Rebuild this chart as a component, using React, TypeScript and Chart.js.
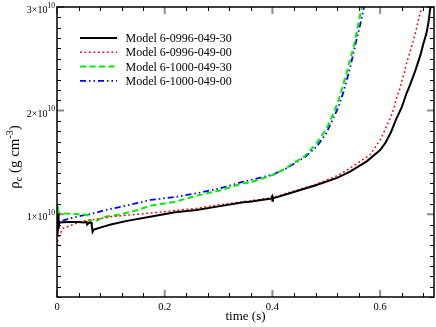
import { useEffect, useRef } from 'react';
import { Chart, registerables } from 'chart.js';

Chart.register(...registerables);

const FONT = '"Liberation Serif", "Times New Roman", serif';

// density in units of 10^10 g cm^-3, time in s
const seriesLabels = [
  'Model 6-0996-049-30',
  'Model 6-0996-049-00',
  'Model 6-1000-049-30',
  'Model 6-1000-049-00',
];

const tBlack = [0, 0.001, 0.002, 0.003, 0.004, 0.006, 0.02, 0.04, 0.05, 0.055, 0.056, 0.06, 0.064, 0.066, 0.068, 0.08, 0.1, 0.13, 0.173, 0.219, 0.259, 0.3, 0.346, 0.358, 0.398, 0.399, 0.4, 0.401, 0.402, 0.426, 0.482, 0.52, 0.544, 0.575, 0.6, 0.61, 0.62, 0.63, 0.64, 0.649, 0.655, 0.66, 0.665, 0.67, 0.675, 0.68, 0.686, 0.69, 0.6925, 0.695];
const rhoBlack = [0.92, 0.8, 1.0, 0.86, 0.93, 0.92, 0.925, 0.925, 0.92, 0.925, 0.9, 0.92, 0.915, 0.83, 0.85, 0.87, 0.9, 0.935, 0.975, 1.018, 1.04, 1.075, 1.114, 1.12, 1.15, 1.18, 1.13, 1.165, 1.155, 1.192, 1.281, 1.35, 1.41, 1.51, 1.619, 1.69, 1.79, 1.92, 2.03, 2.167, 2.24, 2.31, 2.38, 2.46, 2.54, 2.64, 2.746, 2.86, 2.97, 3.05];

const tRed = [0, 0.001, 0.002, 0.004, 0.01, 0.02, 0.035, 0.05, 0.065, 0.07, 0.1, 0.173, 0.219, 0.259, 0.3, 0.346, 0.4, 0.426, 0.482, 0.52, 0.544, 0.581, 0.6, 0.606, 0.613, 0.62, 0.626, 0.631, 0.636, 0.64, 0.645, 0.649, 0.655, 0.662, 0.667, 0.671, 0.677, 0.68];
const rhoRed = [0.75, 0.7, 0.8, 0.78, 0.86, 0.88, 0.91, 0.935, 0.945, 0.95, 0.975, 1.01, 1.035, 1.056, 1.09, 1.12, 1.16, 1.2, 1.29, 1.37, 1.443, 1.571, 1.716, 1.78, 1.86, 1.94, 2.03, 2.134, 2.2, 2.28, 2.37, 2.456, 2.56, 2.68, 2.78, 2.875, 2.99, 3.05];

const tGreen = [0, 0.001, 0.002, 0.003, 0.005, 0.02, 0.04, 0.055, 0.06, 0.0645, 0.07, 0.089, 0.12, 0.15, 0.173, 0.219, 0.259, 0.3, 0.346, 0.358, 0.4, 0.426, 0.433, 0.46, 0.482, 0.5, 0.513, 0.523, 0.532, 0.538, 0.544, 0.551, 0.556, 0.562, 0.566, 0.568];
const rhoGreen = [1.05, 0.95, 1.08, 1.0, 1.01, 1.005, 1.0, 0.995, 0.98, 0.911, 0.93, 0.975, 1.0, 1.04, 1.081, 1.12, 1.178, 1.225, 1.298, 1.303, 1.378, 1.443, 1.474, 1.56, 1.684, 1.82, 1.97, 2.1, 2.263, 2.37, 2.488, 2.62, 2.746, 2.9, 3.0, 3.05];

const tBlue = [0, 0.001, 0.002, 0.003, 0.005, 0.01, 0.024, 0.05, 0.07, 0.09, 0.12, 0.173, 0.219, 0.259, 0.3, 0.346, 0.4, 0.426, 0.46, 0.482, 0.5, 0.513, 0.523, 0.532, 0.544, 0.556, 0.563, 0.569, 0.571];
const rhoBlue = [0.93, 0.85, 0.96, 0.88, 0.93, 0.935, 0.96, 0.99, 1.01, 1.04, 1.072, 1.137, 1.165, 1.201, 1.245, 1.313, 1.38, 1.443, 1.55, 1.651, 1.78, 1.925, 2.04, 2.182, 2.408, 2.68, 2.83, 2.97, 3.05];

const xMajorTicks = [0, 0.2, 0.4, 0.6];
const xTickLabels = ['0', '0.2', '0.4', '0.6'];
const yMajorTicks = [1, 2, 3];
const yTickLabels = ['1×10', '2×10', '3×10'];
const yTickExponent = '10';
const xTitle = 'time (s)';

const toXY = (t: number[], r: number[]) => t.map((x, i) => ({ x, y: r[i] }));

const framePlugin = {
  id: 'frameAndText',
  afterDraw(chart: any) {
    const { ctx, chartArea: a, scales } = chart;
    const xs = scales.x;
    const ys = scales.y;
    ctx.save();

    // minor ticks
    ctx.strokeStyle = '#000';
    ctx.lineWidth = 1;
    ctx.beginPath();
    for (let i = 2; i <= 30; i++) {
      if (i % 10 === 0) continue;
      const y = Math.round(ys.getPixelForValue(i / 10)) + 0.5;
      ctx.moveTo(a.left, y); ctx.lineTo(a.left + 4, y);
      ctx.moveTo(a.right, y); ctx.lineTo(a.right - 4, y);
    }
    for (let i = 1; i <= 17; i++) {
      if (i % 5 === 0) continue;
      const x = Math.round(xs.getPixelForValue(i * 0.04)) + 0.5;
      ctx.moveTo(x, a.bottom); ctx.lineTo(x, a.bottom - 4);
      ctx.moveTo(x, a.top); ctx.lineTo(x, a.top + 4);
    }
    ctx.stroke();

    // major ticks
    ctx.strokeStyle = 'rgba(0,0,0,0.45)';
    ctx.lineWidth = 2;
    ctx.beginPath();
    yMajorTicks.forEach((v) => {
      const y = ys.getPixelForValue(v);
      ctx.moveTo(a.left, y); ctx.lineTo(a.left + 7, y);
      ctx.moveTo(a.right, y); ctx.lineTo(a.right - 7, y);
    });
    xMajorTicks.forEach((v) => {
      const x = xs.getPixelForValue(v);
      ctx.moveTo(x, a.bottom); ctx.lineTo(x, a.bottom - 7);
      ctx.moveTo(x, a.top); ctx.lineTo(x, a.top + 7);
    });
    ctx.stroke();

    // frame
    ctx.strokeStyle = '#000';
    ctx.lineWidth = 1.5;
    ctx.strokeRect(a.left, a.top, a.right - a.left, a.bottom - a.top);

    ctx.fillStyle = '#000';
    // y tick labels
    yMajorTicks.forEach((v, i) => {
      const y = ys.getPixelForValue(v);
      ctx.font = `7.5px ${FONT}`;
      ctx.textAlign = 'right';
      ctx.textBaseline = 'alphabetic';
      const sw = ctx.measureText(yTickExponent).width;
      ctx.fillText(yTickExponent, 55, y + 0.7);
      ctx.font = `10px ${FONT}`;
      ctx.fillText(yTickLabels[i], 55 - sw, y + 6);
    });
    // x tick labels
    ctx.font = `10.5px ${FONT}`;
    ctx.textAlign = 'center';
    xMajorTicks.forEach((v, i) => {
      ctx.fillText(xTickLabels[i], xs.getPixelForValue(v), 310);
    });
    // x title
    ctx.font = `13px ${FONT}`;
    ctx.fillText(xTitle, (a.left + a.right) / 2, 320);

    // y title with sub/superscripts
    const parts = [
      { s: 'ρ', size: 15, dy: 0 },
      { s: 'c', size: 10, dy: 3 },
      { s: ' (g cm', size: 15, dy: 0 },
      { s: '-3', size: 10, dy: -6 },
      { s: ')', size: 15, dy: 0 },
    ];
    let total = 0;
    parts.forEach((p) => { ctx.font = `${p.size}px ${FONT}`; total += ctx.measureText(p.s).width; });
    ctx.translate(18.5, 157);
    ctx.rotate(-Math.PI / 2);
    ctx.textAlign = 'left';
    let cx = -total / 2;
    parts.forEach((p) => {
      ctx.font = `${p.size}px ${FONT}`;
      ctx.fillText(p.s, cx, p.dy);
      cx += ctx.measureText(p.s).width;
    });
    ctx.setTransform(1, 0, 0, 1, 0, 0);

    // legend
    ctx.font = `12px ${FONT}`;
    ctx.textAlign = 'left';
    ctx.textBaseline = 'middle';
    chart.data.datasets.forEach((ds: any, i: number) => {
      const y = 38 + i * 14.3;
      ctx.save();
      ctx.strokeStyle = ds.borderColor;
      ctx.lineWidth = ds.borderWidth;
      ctx.setLineDash(ds.borderDash || []);
      ctx.beginPath();
      ctx.moveTo(80, y); ctx.lineTo(117, y);
      ctx.stroke();
      ctx.restore();
      ctx.fillStyle = '#000';
      ctx.fillText(ds.label, 125.5, y + 1);
    });

    ctx.restore();
  },
};

export default function App() {
  const ref = useRef<HTMLCanvasElement>(null);
  useEffect(() => {
    document.body.style.margin = '0';
    const chart = new Chart(ref.current!, {
      type: 'line',
      data: {
        datasets: [
          { label: seriesLabels[0], data: toXY(tBlack, rhoBlack), borderColor: '#000000', borderWidth: 2, borderDash: [] },
          { label: seriesLabels[1], data: toXY(tRed, rhoRed), borderColor: '#ff0000', borderWidth: 1.5, borderDash: [1.8, 2.7] },
          { label: seriesLabels[2], data: toXY(tGreen, rhoGreen), borderColor: '#00ee00', borderWidth: 2, borderDash: [6, 3.5] },
          { label: seriesLabels[3], data: toXY(tBlue, rhoBlue), borderColor: '#0000ff', borderWidth: 1.8, borderDash: [6, 3, 1.5, 3, 1.5, 3] },
        ].map((d) => ({ ...d, pointRadius: 0, fill: false, tension: 0 })),
      },
      options: {
        animation: false,
        responsive: false,
        events: [],
        layout: { padding: { left: 57, top: 7, right: 2, bottom: 30 } },
        scales: {
          x: { type: 'linear', min: 0, max: 0.7, display: false },
          y: { type: 'linear', min: 0.2, max: 3.0, display: false },
        },
        plugins: { legend: { display: false }, tooltip: { enabled: false } },
      },
      plugins: [framePlugin],
    });
    return () => chart.destroy();
  }, []);
  return (
    <div style={{ width: 436, height: 327 }}>
      <canvas ref={ref} width={436} height={327} />
    </div>
  );
}
